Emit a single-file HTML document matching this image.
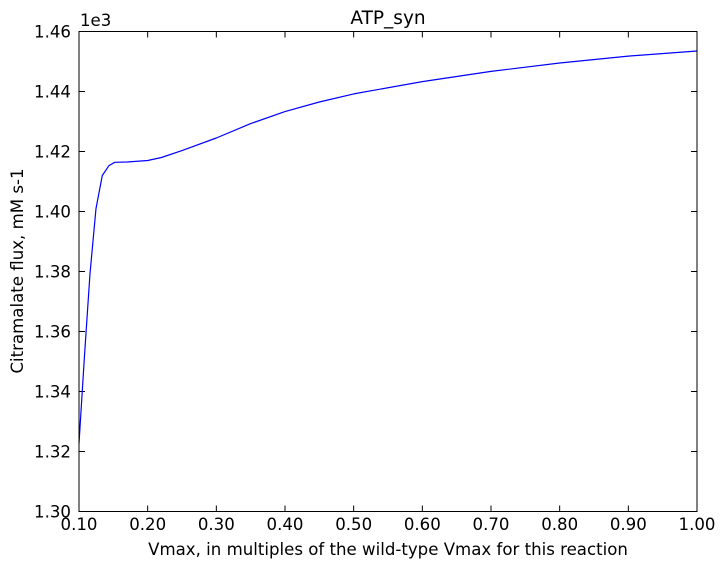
<!DOCTYPE html>
<html><head><meta charset="utf-8"><style>
body{margin:0;background:#fff}
svg text{font-family:"DejaVu Sans","Liberation Sans",sans-serif;fill:#000}
</style></head><body>
<svg id="chart" width="726" height="569" xmlns="http://www.w3.org/2000/svg">
<rect width="726" height="569" fill="#fff"/>
<g id="ticks"></g>
<path id="line" fill="none" stroke="#0000ff" stroke-width="1.2" stroke-linejoin="round"/>
<rect x="79" y="31.5" width="618" height="480" fill="none" stroke="#000" stroke-width="1"/>
<text x="388" y="24" font-size="18.5" text-anchor="middle">ATP_syn</text>
<text x="80" y="26" font-size="16.6">1e3</text>
<text x="388" y="555" font-size="16.6" text-anchor="middle">Vmax, in multiples of the wild-type Vmax for this reaction</text>
<text transform="translate(23,271) rotate(-90)" font-size="16.6" text-anchor="middle">Citramalate flux, mM s-1</text>
</svg>
<script>
const xVals=[0.1,0.108,0.116,0.1247,0.134,0.1437,0.152,0.17,0.2,0.22,0.25,0.3,0.35,0.4,0.45,0.5,0.6,0.7,0.8,0.9,1.0];
const yVals=[1.3227,1.352,1.3793,1.401,1.412,1.4153,1.4164,1.4165,1.417,1.418,1.4203,1.4245,1.4293,1.4333,1.4365,1.4392,1.4433,1.4467,1.4495,1.4518,1.4535];
const xTicks=[0.1,0.2,0.3,0.4,0.5,0.6,0.7,0.8,0.9,1.0];
const yTicks=[1.30,1.32,1.34,1.36,1.38,1.40,1.42,1.44,1.46];
const X=v=>79+(v-0.1)/0.9*618;
const Y=v=>511.5-(v-1.30)/0.16*480;
const ns="http://www.w3.org/2000/svg";
const g=document.getElementById('ticks');
function mk(t,a){const e=document.createElementNS(ns,t);for(const k in a)e.setAttribute(k,a[k]);g.appendChild(e);return e;}
xTicks.forEach(v=>{const x=X(v);
 let l=mk('line',{x1:x,x2:x,y1:511.5,y2:505.5,stroke:'#000'});
 
 
 let l2=mk('line',{x1:x,x2:x,y1:31.5,y2:37.5,stroke:'#000'});
 
 
 let t=mk('text',{x:x,y:530,'font-size':16.6,'text-anchor':'middle'});t.textContent=v.toFixed(2);
 
 
});
yTicks.forEach(v=>{const y=Y(v);
 let l=mk('line',{x1:79,x2:85,y1:y,y2:y,stroke:'#000'});
 
 
 let l2=mk('line',{x1:697,x2:691,y1:y,y2:y,stroke:'#000'});
 
 
 let t=mk('text',{x:71,y:y+6,'font-size':16.6,'text-anchor':'end'});t.textContent=v.toFixed(2);
 
 
});
document.getElementById('line').setAttribute('d',xVals.map((v,i)=>(i?'L':'M')+X(v).toFixed(1)+','+Y(yVals[i]).toFixed(1)).join(''));
</script>
</body></html>
